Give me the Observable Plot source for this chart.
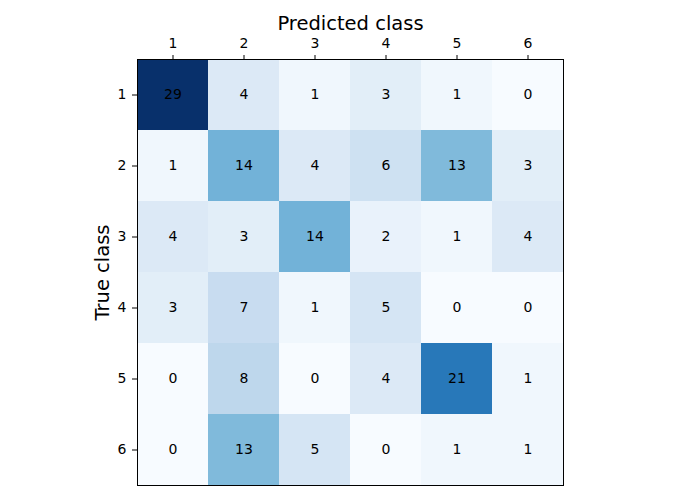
<!DOCTYPE html>
<html>
<head>
<meta charset="utf-8">
<script src="https://cdn.jsdelivr.net/npm/d3@7"></script>
<script src="https://cdn.jsdelivr.net/npm/@observablehq/plot@0.6"></script>
<style>
body{margin:0;background:#fff;}
</style>
</head>
<body>
<div id="chart"></div>
<script>
const predictedClasses = ["1","2","3","4","5","6"];
const trueClasses = ["1","2","3","4","5","6"];
const counts = [
  [29, 4, 1, 3, 1, 0],
  [1, 14, 4, 6, 13, 3],
  [4, 3, 14, 2, 1, 4],
  [3, 7, 1, 5, 0, 0],
  [0, 8, 0, 4, 21, 1],
  [0, 13, 5, 0, 1, 1]
];
const blues = ["#f7fbff","#deebf7","#c6dbef","#9ecae1","#6baed6","#4292c6","#2171b5","#08519c","#08306b"];

const cells = [];
trueClasses.forEach((t, i) => predictedClasses.forEach((p, j) => cells.push({t, p, v: counts[i][j]})));
const vmax = d3.max(cells, d => d.v);
const vmin = d3.min(cells, d => d.v);

const chart = Plot.plot({
  width: 700,
  height: 500,
  marginTop: 59,
  marginBottom: 15,
  marginLeft: 137,
  marginRight: 137,
  style: {fontFamily: "DejaVu Sans", fontSize: "14px", background: "#fff"},
  x: {type: "band", domain: predictedClasses, padding: 0},
  y: {type: "band", domain: trueClasses, padding: 0},
  color: {type: "linear", domain: blues.map((_, k) => vmin + (vmax - vmin) * k / (blues.length - 1)), range: blues, interpolate: "rgb"},
  marks: [
    Plot.cell(cells, {x: "p", y: "t", fill: "v", inset: 0}),
    Plot.text(cells, {x: "p", y: "t", text: d => String(d.v), fill: "black", fontSize: 14}),
    Plot.frame({stroke: "black", strokeWidth: 1}),
    Plot.axisX({anchor: "top", tickSize: 5, tickPadding: 7, label: null, fontSize: 14}),
    Plot.axisY({anchor: "left", tickSize: 5, tickPadding: 6, label: null, fontSize: 14}),
    Plot.text(["Predicted class"], {frameAnchor: "top", lineAnchor: "middle", dy: -36, fontSize: 19.5, fill: "black"}),
    Plot.text(["True class"], {frameAnchor: "left", textAnchor: "middle", lineAnchor: "middle", dx: -35, rotate: -90, fontSize: 19.5, fill: "black"})
  ]
});
document.getElementById("chart").appendChild(chart);
</script>
</body>
</html>
